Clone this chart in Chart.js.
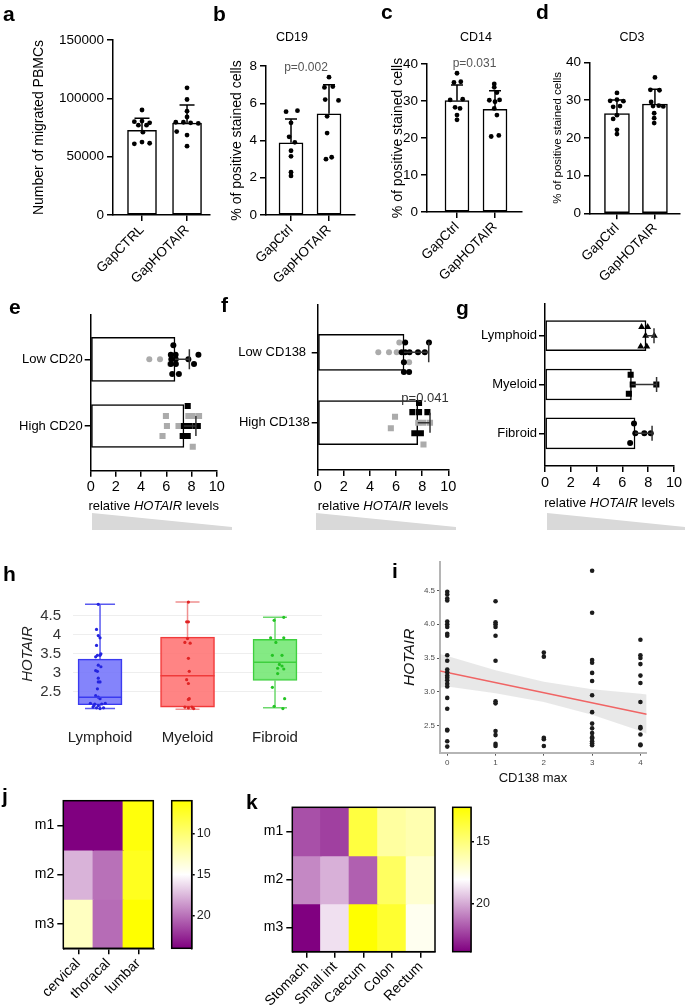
<!DOCTYPE html>
<html>
<head>
<meta charset="utf-8">
<script src="https://cdn.jsdelivr.net/npm/chart.js@4.4.1/dist/chart.umd.min.js"></script>
<style>
  html, body { margin: 0; padding: 0; background: #fff; overflow: hidden; }
  #fig { position: relative; width: 685px; height: 1008px; font-family: "Liberation Sans", Arial, sans-serif; color: #000; }
  #fig canvas { position: absolute; }
  .t { position: absolute; white-space: nowrap; transform: translate(-50%, -50%); line-height: 1; }
  .lab { position: absolute; font-weight: bold; font-size: 21px; line-height: 21px; }
  .wedge { position: absolute; background: #d9d9d9; clip-path: polygon(0 0, 100% 82%, 100% 100%, 0 100%); }
</style>
</head>
<body>
<div id="fig"></div>
<script>
// ---------- data ----------
// a: migrated PBMCs
const aCats = ['GapCTRL', 'GapHOTAIR'];
const aMean = [72500, 78800];
const aSD = [10500, 15500];
const aCtrl = [90000, 80000, 80500, 79000, 77000, 77000, 71000, 61000, 62500, 61500];
const aCtrlJit = [0, -0.17, 0, 0.17, -0.08, 0.1, 0.02, -0.17, 0, 0.17];
const aHot = [109000, 99000, 89000, 84000, 79500, 79500, 79000, 78500, 71500, 68500, 59000];
const aHotJit = [0, 0, 0, 0, -0.25, -0.08, 0.08, 0.25, -0.23, 0, 0];

// b-d: % positive stained cells
const gapCats = ['GapCtrl', 'GapHOTAIR'];
const bMean = [3.88, 5.43];
const bSD = [1.27, 1.57];
const bCtrl = [5.55, 5.6, 4.95, 4.2, 3.9, 3.45, 3.15, 2.3, 2.1];
const bCtrlJit = [-0.13, 0.17, 0, -0.05, 0.1, 0, 0, 0, 0];
const bHot = [7.4, 6.85, 6.9, 6.2, 6.15, 5.3, 4.4, 3.0, 3.1];
const bHotJit = [0, -0.12, 0.1, -0.1, 0.25, -0.05, -0.05, -0.08, 0.07];

const cMean = [30.1, 27.75];
const cSD = [4.2, 5.05];
const cCtrl = [37.5, 35, 35.2, 30.3, 30.5, 28.3, 28, 26.2, 24.9];
const cCtrlJit = [0, -0.08, 0.1, -0.18, 0.15, -0.05, 0.08, 0, 0];
const cHot = [34.6, 33.7, 32.3, 30.2, 29.8, 30.3, 28, 26.2, 20.4, 20.7];
const cHotJit = [-0.02, -0.02, 0.05, -0.15, 0, 0.12, -0.02, 0.05, -0.1, 0.1];

const dMean = [26.4, 28.96];
const dSD = [3.6, 3.9];
const dCtrl = [31.9, 29.8, 30.1, 29.7, 28.2, 28.4, 26, 25, 22.1, 21];
const dCtrlJit = [0, -0.18, 0, 0.17, -0.1, 0.08, 0, -0.1, 0, 0];
const dHot = [36, 32.7, 32.6, 29.5, 28.4, 28.5, 28.3, 26.5, 25.2, 23.9];
const dHotJit = [0, -0.12, 0.12, -0.1, -0.05, 0.1, 0.22, -0.02, -0.02, -0.02];

// e-g: relative HOTAIR levels
const eCats = ['Low CD20', 'High CD20'];
const eMean = [6.69, 7.4];
const eSD = [1.14, 0.95];
const eLowGray = [4.65, 5.5, 6.3];
const eLowGrayJit = [0, 0, 0.07];
const eLowBlack = [6.56, 6.36, 6.74, 8.55, 6.4, 6.75, 7.75, 6.36, 6.76, 8.2, 6.47, 7.0];
const eLowBlackJit = [-0.21, -0.07, -0.07, -0.07, 0, 0, 0, 0.07, 0.07, 0.07, 0.22, 0.22];
const eHighGray = [5.97, 7.75, 8.1, 8.6, 6.05, 6.97, 5.7, 8.1];
const eHighGrayJit = [-0.15, -0.15, -0.15, -0.15, 0, 0, 0.15, 0.31];
const eHighBlack = [7.7, 7.4, 7.8, 8.3, 8.5, 7.3, 7.7];
const eHighBlackJit = [-0.3, 0, 0, 0, 0, 0.15, 0.15];

const fCats = ['Low CD138 ', 'High CD138'];
const fMean = [6.61, 7.66];
const fSD = [1.89, 0.94];
const fLowGray = [6.25, 4.64, 5.46, 6.05, 7.0];
const fLowGrayJit = [-0.14, 0, 0, 0, 0.14];
const fLowBlack = [6.7, 8.52, 6.43, 6.7, 7.03, 7.68, 8.2, 6.6, 6.6, 7.0];
const fLowBlackJit = [-0.14, -0.14, 0, 0, 0, 0, 0, 0.14, 0.28, 0.28];
const fHighGray = [5.92, 7.7, 8.1, 8.6, 5.6, 8.1];
const fHighGrayJit = [-0.085, 0, 0, 0, 0.08, 0.31];
const fHighBlack = [7.76, 7.25, 7.76, 8.4, 7.4, 7.9];
const fHighBlackJit = [-0.28, -0.15, -0.15, -0.15, 0.15, 0.15];

const gCats = ['Lymphoid', 'Myeloid', 'Fibroid'];
const gMean = [7.83, 6.7, 6.98];
const gSD = [0.62, 1.95, 1.32];
const gLym = [7.49, 7.96, 7.8, 8.47, 7.42, 7.89];
const gLymJit = [-0.18, -0.18, 0, 0, 0.22, 0.22];
const gMye = [6.64, 6.8, 8.63, 6.5];
const gMyeJit = [-0.2, 0, 0, 0.19];
const gFib = [6.9, 7.0, 7.7, 8.2, 6.6];
const gFibJit = [-0.2, 0, 0, 0, 0.2];

// h: box plots of HOTAIR
const hCats = ['Lymphoid', 'Myeloid', 'Fibroid'];
const hTicks = [2.5, 3, 3.5, 4, 4.5];
const hMin = [2.06, 2.04, 2.08];
const hQ1 = [2.16, 2.10, 2.80];
const hMed = [2.36, 2.92, 3.28];
const hQ3 = [3.36, 3.94, 3.88];
const hMax = [4.80, 4.86, 4.46];
const hLym = [4.8, 4.14, 3.98, 3.92, 3.72, 3.5, 3.46, 3.46, 3.42, 3.2, 3.16, 3.06, 3.04, 2.86, 2.76, 2.76, 2.58, 2.4, 2.36, 2.32, 2.2, 2.18, 2.14, 2.18, 2.2, 2.1, 2.08, 2.06, 2.08, 2.14];
const hLymJit = [-0.02, -0.04, -0.02, 0, -0.04, 0.01, -0.03, 0, -0.05, -0.02, 0.01, -0.05, -0.03, -0.02, -0.02, 0, -0.03, -0.05, -0.02, 0, -0.11, -0.06, -0.02, 0.02, 0.06, -0.08, -0.04, 0, 0.04, -0.07];
const hMye = [4.86, 4.34, 4.34, 3.9, 3.8, 3.78, 3.38, 3.04, 2.82, 2.72, 2.32, 2.3, 2.1, 2.08, 2.1, 2.06];
const hMyeJit = [0.01, -0.01, 0.01, 0, -0.03, 0.03, 0.01, 0.02, -0.01, 0.01, 0.02, 0.01, -0.03, 0.01, 0.05, 0.07];
const hFib = [4.46, 4.38, 3.92, 3.92, 3.8, 3.46, 3.46, 3.22, 3.18, 3.12, 3.1, 2.98, 2.62, 2.32, 2.12, 2.06];
const hFibJit = [0.1, -0.01, -0.05, 0.1, 0.01, -0.03, 0.08, 0.05, 0.08, 0.03, 0.1, 0.03, -0.03, 0.11, -0.01, 0.09];

// i: HOTAIR vs CD138 max
const iXTicks = [0, 1, 2, 3, 4];
const iYTicks = [2.5, 3, 3.5, 4, 4.5];
const iAt0 = [4.48, 4.44, 4.38, 4.35, 4.04, 4.0, 3.96, 3.86, 3.83, 3.54, 3.46, 3.33, 3.29, 3.24, 3.21, 3.17, 3.12, 3.08, 2.91, 2.75, 2.44, 2.43, 2.27, 2.19];
const iAt1 = [4.34, 4.03, 4.0, 3.96, 3.83, 3.46, 2.86, 2.83, 2.42, 2.36, 2.23, 2.2];
const iAt2 = [3.58, 3.52, 2.32, 2.3, 2.2];
const iAt3 = [4.79, 4.17, 3.47, 3.43, 3.28, 3.16, 2.95, 2.7, 2.53, 2.46, 2.39, 2.33, 2.31, 2.27, 2.24, 2.21];
const iAt4 = [3.77, 3.54, 3.5, 3.41, 3.24, 3.13, 2.85, 2.48, 2.46, 2.37, 2.22, 2.21];
const iFitX = [-0.15, 4.13];
const iFitY = [3.31, 2.67];
const iBandX = [-0.15, 0, 1, 2, 3, 4, 4.13];
const iBandHi = [3.56, 3.53, 3.32, 3.15, 3.04, 2.97, 2.96];
const iBandLo = [3.06, 3.08, 2.98, 2.85, 2.66, 2.42, 2.38];

// j, k: heatmaps
const heatRows = ['m1', 'm2', 'm3'];
const jCols = ['cervical', 'thoracal', 'lumbar'];
const jM1 = [24, 24, 6.4];
const jM2 = [17.7, 20.0, 7.1];
const jM3 = [12.8, 20.2, 6];
const jStops = [6, 15, 24];
const jTicks = [10, 15, 20];
const kCols = ['Stomach', 'Small int', 'Caecum', 'Colon', 'Rectum'];
const kM1 = [22.06, 22.43, 13.67, 15.87, 16.24];
const kM2 = [20.78, 19.86, 21.7, 14.4, 16.97];
const kM3 = [23.9, 18.76, 12.2, 13.3, 17.7];
const kStops = [12.2, 18.05, 23.9];
const kTicks = [15, 20];

// ---------- helpers ----------
const fig = document.getElementById('fig');
Chart.defaults.font.family = '"Liberation Sans", Arial, sans-serif';
Chart.defaults.color = '#000';
Chart.defaults.plugins.legend.display = false;
Chart.defaults.plugins.tooltip.enabled = false;

function mk(box, cfg, plugins) {
  const [l, t, w, h] = box;
  const c = document.createElement('canvas');
  c.width = w; c.height = h;
  Object.assign(c.style, {left: l + 'px', top: t + 'px', width: w + 'px', height: h + 'px'});
  fig.appendChild(c);
  cfg.options = Object.assign({responsive: false, animation: false}, cfg.options);
  cfg.plugins = plugins || [];
  return new Chart(c, cfg);
}
function txt(html, cx, cy, size, css) {
  const d = document.createElement('div');
  d.className = 't';
  d.innerHTML = html;
  Object.assign(d.style, {left: cx + 'px', top: cy + 'px', fontSize: size + 'px'}, css || {});
  fig.appendChild(d);
}
function letter(s, x, y) {
  const d = document.createElement('div');
  d.className = 'lab'; d.textContent = s;
  d.style.left = x + 'px'; d.style.top = y + 'px';
  fig.appendChild(d);
}
function wedge(x, y, w, h) {
  const d = document.createElement('div');
  d.className = 'wedge';
  Object.assign(d.style, {left: x + 'px', top: y + 'px', width: w + 'px', height: h + 'px'});
  fig.appendChild(d);
}

const cmapRGB = [[255, 255, 0], [255, 255, 255], [128, 0, 128]];
function cmap(v, stops) {
  const k = v <= stops[1] ? 0 : 1;
  const t = Math.max(0, Math.min(1, (v - stops[k]) / (stops[k + 1] - stops[k])));
  const a = cmapRGB[k], b = cmapRGB[k + 1];
  return 'rgb(' + a.map((c, i) => Math.round(c + (b[i] - c) * t)).join(',') + ')';
}

const axisGrid = {drawOnChartArea: false, offset: false, color: '#000', lineWidth: 1.5, tickColor: '#000', tickWidth: 1.5, tickLength: 6};
const axisBorder = {display: true, color: '#000', width: 1.5};

// error bars (one-sided, GraphPad style)
const errBars = {
  id: 'errBars',
  afterDatasetsDraw(chart, args, o) {
    const {ctx} = chart, x = chart.scales.x, y = chart.scales.y;
    ctx.save();
    ctx.strokeStyle = o.color || '#000';
    ctx.lineWidth = 1.5;
    o.mean.forEach((m, i) => {
      const e = m + o.sd[i], c = o.cap / 2;
      ctx.beginPath();
      if (o.horiz) {
        const py = y.getPixelForValue(i), x0 = x.getPixelForValue(m), x1 = x.getPixelForValue(e);
        ctx.moveTo(x0, py); ctx.lineTo(x1, py);
        ctx.moveTo(x1, py - c); ctx.lineTo(x1, py + c);
      } else {
        const px = x.getPixelForValue(i), y0 = y.getPixelForValue(m), y1 = y.getPixelForValue(e);
        ctx.moveTo(px, y0); ctx.lineTo(px, y1);
        ctx.moveTo(px - c, y1); ctx.lineTo(px + c, y1);
      }
      ctx.stroke();
    });
    ctx.restore();
  }
};

const frame = {
  id: 'frame',
  afterDraw(chart) {
    const {ctx, chartArea: a} = chart;
    ctx.save();
    ctx.strokeStyle = '#000'; ctx.lineWidth = 1.5;
    ctx.strokeRect(a.left, a.top, a.right - a.left, a.bottom - a.top);
    ctx.restore();
  }
};

// whiskers + median for box plot
const boxDeco = {
  id: 'boxDeco',
  beforeDatasetsDraw(chart, args, o) {
    const {ctx} = chart, x = chart.scales.x, y = chart.scales.y;
    ctx.save(); ctx.lineWidth = 1.5;
    o.med.forEach((m, i) => {
      const px = x.getPixelForValue(i), c = o.cap[i] / 2;
      const yMax = y.getPixelForValue(o.max[i]), yMin = y.getPixelForValue(o.min[i]);
      ctx.strokeStyle = o.whisk[i];
      ctx.beginPath();
      ctx.moveTo(px, y.getPixelForValue(o.q3[i])); ctx.lineTo(px, yMax);
      ctx.moveTo(px, y.getPixelForValue(o.q1[i])); ctx.lineTo(px, yMin);
      ctx.moveTo(px - c, yMax); ctx.lineTo(px + c, yMax);
      ctx.moveTo(px - c, yMin); ctx.lineTo(px + c, yMin);
      ctx.stroke();
    });
    ctx.restore();
  },
  afterDatasetsDraw(chart, args, o) {
    const {ctx} = chart, x = chart.scales.x, y = chart.scales.y;
    ctx.save(); ctx.lineWidth = 1.5;
    o.med.forEach((m, i) => {
      const px = x.getPixelForValue(i), hw = o.w[i] / 2, py = y.getPixelForValue(m);
      ctx.strokeStyle = o.edge[i];
      ctx.beginPath(); ctx.moveTo(px - hw, py); ctx.lineTo(px + hw, py); ctx.stroke();
    });
    ctx.restore();
  }
};

// ---------- vertical bar panels (a-d) ----------
function vbar(p) {
  const [l, t, w, h] = p.box, A = p.area;
  const ds = [{type: 'bar', data: p.mean.map((m, i) => ({x: i, y: m})), backgroundColor: '#fff',
    borderColor: '#000', borderWidth: 1.5, borderSkipped: false, barThickness: p.barW, order: 2}];
  p.dots.forEach((g, i) => ds.push({type: 'scatter', data: g[0].map((v, k) => ({x: i + g[1][k], y: v})),
    pointRadius: 2.4, pointBackgroundColor: '#000', pointBorderWidth: 0, order: 1}));
  mk(p.box, {type: 'bar', data: {datasets: ds}, options: {
    layout: {padding: {left: 0, top: A.t - t, right: l + w - A.r, bottom: 0}},
    scales: {
      x: {type: 'linear', min: p.xr[0], max: p.xr[1], offset: false, grid: axisGrid, border: axisBorder,
        afterBuildTicks: s => { s.ticks = p.cats.map((c, i) => ({value: i})); },
        afterFit: s => { s.height = t + h - A.b; },
        ticks: {autoSkip: false, minRotation: 45, maxRotation: 45, padding: 1, font: {size: 13.5}, callback: v => p.cats[v]}},
      y: {type: 'linear', min: 0, max: p.ymax, offset: false, grid: axisGrid, border: axisBorder,
        afterFit: s => { s.width = A.l - l; },
        ticks: {stepSize: p.step, padding: 3, font: {size: 13.5}, callback: v => String(v)},
        title: {display: true, text: p.title, font: {size: p.tsize}, padding: {top: p.tpad, bottom: 0}}}
    },
    plugins: {errBars: {mean: p.mean, sd: p.sd, cap: p.cap}}
  }}, [errBars]);
}

vbar({box: [0, 0, 222, 290], area: {l: 113, t: 40, r: 210, b: 215}, xr: [-0.644, 1.51], cats: aCats,
  mean: aMean, sd: aSD, dots: [[aCtrl, aCtrlJit], [aHot, aHotJit]], barW: 29, cap: 15,
  ymax: 150000, step: 50000, title: 'Number of migrated PBMCs', tsize: 14, tpad: 30.6});
vbar({box: [222, 0, 140, 290], area: {l: 266, t: 66, r: 355, b: 215}, xr: [-0.658, 1.684], cats: gapCats,
  mean: bMean, sd: bSD, dots: [[bCtrl, bCtrlJit], [bHot, bHotJit]], barW: 24, cap: 12,
  ymax: 8, step: 2, title: '% of positive stained cells', tsize: 14, tpad: 6.6});
vbar({box: [362, 0, 165, 290], area: {l: 427, t: 64, r: 522, b: 212}, xr: [-0.789, 1.71], cats: gapCats,
  mean: cMean, sd: cSD, dots: [[cCtrl, cCtrlJit], [cHot, cHotJit]], barW: 24, cap: 12,
  ymax: 40, step: 10, title: '% of positive stained cells', tsize: 14, tpad: 27.6});
vbar({box: [527, 0, 158, 290], area: {l: 590, t: 62.3, r: 680, b: 213.3}, xr: [-0.71, 1.66], cats: gapCats,
  mean: dMean, sd: dSD, dots: [[dCtrl, dCtrlJit], [dHot, dHotJit]], barW: 25, cap: 12,
  ymax: 40, step: 10, title: '% of positive stained cells', tsize: 11.5, tpad: 24.1});

// ---------- horizontal bar panels (e-g) ----------
function hbar(p) {
  const [l, t, w, h] = p.box, A = p.area;
  const ds = p.mean.map((m, i) => ({type: 'bar', indexAxis: 'y', grouped: false, data: [{x: m, y: i}],
    barThickness: p.thick[i], backgroundColor: '#fff', borderColor: '#000', borderWidth: 1.5, borderSkipped: false, order: 3}));
  p.dots.forEach(d => ds.push({type: 'scatter', data: d.v.map((v, k) => ({x: v, y: d.cat + d.j[k]})),
    pointStyle: d.style, pointRadius: d.r, pointBackgroundColor: d.color, pointBorderWidth: 0, order: d.top ? 1 : 2}));
  mk(p.box, {type: 'bar', data: {datasets: ds}, options: {
    layout: {padding: {left: 0, top: A.t - t, right: l + w - A.r, bottom: 0}},
    scales: {
      x: {type: 'linear', min: 0, max: 10, offset: false, grid: axisGrid, border: axisBorder,
        afterFit: s => { s.height = t + h - A.b; },
        ticks: {stepSize: 2, padding: 2, font: {size: 14.5}}},
      y: {type: 'linear', reverse: true, min: p.yr[0], max: p.yr[1], offset: false, grid: axisGrid, border: axisBorder,
        afterFit: s => { s.width = A.l - l; },
        afterBuildTicks: s => { s.ticks = p.cats.map((c, i) => ({value: i})); },
        ticks: {autoSkip: false, padding: 2, font: {size: 13}, callback: v => p.cats[v]}}
    },
    plugins: {errBars: {mean: p.mean, sd: p.sd, cap: p.cap, horiz: true, color: '#333'}}
  }}, [errBars]);
}

const GRAY = '#ababab';
hbar({box: [0, 290, 230, 230], area: {l: 90.7, t: 315, r: 216.7, b: 470.7}, yr: [-0.664, 1.67],
  cats: eCats, mean: eMean, sd: eSD, thick: [44, 43], cap: 20, dots: [
    {v: eLowGray, j: eLowGrayJit, cat: 0, style: 'circle', r: 3, color: GRAY},
    {v: eLowBlack, j: eLowBlackJit, cat: 0, style: 'circle', r: 3, color: '#000', top: true},
    {v: eHighGray, j: eHighGrayJit, cat: 1, style: 'rect', r: 4.3, color: GRAY},
    {v: eHighBlack, j: eHighBlackJit, cat: 1, style: 'rect', r: 4.3, color: '#000', top: true}]});
hbar({box: [230, 290, 232, 230], area: {l: 317.7, t: 305, r: 448.3, b: 470}, yr: [-0.672, 1.672],
  cats: fCats, mean: fMean, sd: fSD, thick: [36, 44], cap: 20, dots: [
    {v: fLowGray, j: fLowGrayJit, cat: 0, style: 'circle', r: 3, color: GRAY},
    {v: fLowBlack, j: fLowBlackJit, cat: 0, style: 'circle', r: 3, color: '#000', top: true},
    {v: fHighGray, j: fHighGrayJit, cat: 1, style: 'rect', r: 4.3, color: GRAY},
    {v: fHighBlack, j: fHighBlackJit, cat: 1, style: 'rect', r: 4.3, color: '#000', top: true}]});
hbar({box: [455, 290, 230, 230], area: {l: 545, t: 303.3, r: 674, b: 466}, yr: [-0.664, 2.67],
  cats: gCats, mean: gMean, sd: gSD, thick: [30, 31, 31], cap: 15, dots: [
    {v: gLym, j: gLymJit, cat: 0, style: 'triangle', r: 4, color: '#000', top: true},
    {v: gMye, j: gMyeJit, cat: 1, style: 'rect', r: 4.3, color: '#000', top: true},
    {v: gFib, j: gFibJit, cat: 2, style: 'circle', r: 3, color: '#000', top: true}]});

// ---------- h: box plot ----------
const hFill = ['rgba(110,110,250,0.85)', 'rgba(255,110,110,0.85)', 'rgba(110,230,110,0.85)'];
const hEdge = ['#3a3af0', '#f03a3a', '#3fcf3f'];
const hWhisk = ['#5a5af0', '#f09090', '#6cd86c'];
const hDot = ['#2424e0', '#e02424', '#24c424'];
const hBoxW = [44, 54, 44];
const hDs = hCats.map((c, i) => ({type: 'bar', grouped: false, data: [{x: i, y: [hQ1[i], hQ3[i]]}],
  barThickness: hBoxW[i], backgroundColor: hFill[i], borderColor: hEdge[i], borderWidth: 1.3, borderSkipped: false, order: 2}));
[[hLym, hLymJit], [hMye, hMyeJit], [hFib, hFibJit]].forEach((g, i) => hDs.push({type: 'scatter',
  data: g[0].map((v, k) => ({x: i + g[1][k], y: v})), pointRadius: 1.6, pointBackgroundColor: hDot[i], pointBorderWidth: 0, order: 1}));
mk([0, 575, 335, 175], {type: 'bar', data: {datasets: hDs}, options: {
  layout: {padding: {left: 0, top: 10, right: 13, bottom: 0}},
  scales: {
    x: {type: 'linear', min: -0.309, max: 2.537, offset: false, grid: {display: false, offset: false}, border: {display: false},
      afterBuildTicks: s => { s.ticks = hCats.map((c, i) => ({value: i})); },
      afterFit: s => { s.height = 38; },
      ticks: {autoSkip: false, maxRotation: 0, padding: 9, color: '#222', font: {size: 15}, callback: v => hCats[v]}},
    y: {type: 'linear', min: 1.97, max: 5.02, offset: false, grid: {color: '#eeeeee', lineWidth: 1, drawTicks: false}, border: {display: false},
      afterBuildTicks: s => { s.ticks = hTicks.map(v => ({value: v})); },
      afterFit: s => { s.width = 73; },
      ticks: {padding: 12, color: '#333', font: {size: 15}, callback: v => String(v)},
      title: {display: true, text: 'HOTAIR', font: {size: 15, style: 'italic'}, color: '#222', padding: {top: 19.3, bottom: 0}}}
  },
  plugins: {boxDeco: {min: hMin, q1: hQ1, med: hMed, q3: hQ3, max: hMax, cap: [30, 24, 24], w: hBoxW, edge: hEdge, whisk: hWhisk}}
}}, [boxDeco]);

// ---------- i: scatter with linear fit ----------
const iPoints = [iAt0, iAt1, iAt2, iAt3, iAt4].flatMap((col, c) => col.map(v => ({x: c, y: v})));
const iGrid = {drawOnChartArea: false, offset: false, color: '#555', lineWidth: 1, tickColor: '#555', tickLength: 3};
const iBorder = {display: true, color: '#b5b5b5', width: 2};
mk([340, 554, 345, 236], {type: 'scatter', data: {datasets: [
  {type: 'line', data: iBandX.map((x, k) => ({x, y: iBandHi[k]})), borderColor: 'rgba(0,0,0,0)', pointRadius: 0, fill: false, order: 4},
  {type: 'line', data: iBandX.map((x, k) => ({x, y: iBandLo[k]})), borderColor: 'rgba(0,0,0,0)', pointRadius: 0, fill: '-1', backgroundColor: 'rgba(150,150,150,0.22)', order: 3},
  {type: 'line', data: iFitX.map((x, k) => ({x, y: iFitY[k]})), borderColor: '#f06464', borderWidth: 1.5, pointRadius: 0, fill: false, order: 2},
  {type: 'scatter', data: iPoints, pointRadius: 2.3, pointBackgroundColor: '#1c1c1c', pointBorderWidth: 0, order: 1}
]}, options: {
  layout: {padding: {left: 0, top: 8, right: 38.3, bottom: 0}},
  scales: {
    x: {type: 'linear', min: -0.15, max: 4.13, grid: iGrid, border: iBorder,
      afterBuildTicks: s => { s.ticks = iXTicks.map(v => ({value: v})); },
      afterFit: s => { s.height = 37.3; },
      ticks: {padding: 2, color: '#4d4d4d', font: {size: 8}, callback: v => String(v)}},
    y: {type: 'linear', min: 2.1, max: 4.92, grid: iGrid, border: iBorder,
      afterBuildTicks: s => { s.ticks = iYTicks.map(v => ({value: v})); },
      afterFit: s => { s.width = 100; },
      ticks: {padding: 2, color: '#4d4d4d', font: {size: 8}, callback: v => v.toFixed(1)},
      title: {display: true, text: 'HOTAIR', font: {size: 15.5, style: 'italic'}, color: '#111', padding: {top: 60.7, bottom: 0}}}
  }
}});

// ---------- j, k: heatmaps with colour bars ----------
function heat(p) {
  const [l, t, w, h] = p.box, A = p.area;
  const ds = p.vals.map((row, r) => ({type: 'bar', grouped: false, barPercentage: 1, categoryPercentage: 1,
    borderWidth: 0, inflateAmount: 0.7, data: row.map((v, c) => ({x: p.cols[c], y: [r, r + 1]})),
    backgroundColor: row.map(v => cmap(v, p.stops))}));
  mk(p.box, {type: 'bar', data: {labels: p.cols, datasets: ds}, options: {
    layout: {padding: {left: 0, top: A.t - t, right: l + w - A.r, bottom: 0}},
    scales: {
      x: {type: 'category', offset: true, grid: axisGrid, border: axisBorder,
        afterFit: s => { s.height = t + h - A.b; },
        ticks: {autoSkip: false, minRotation: 45, maxRotation: 45, padding: 1, font: {size: 14}}},
      y: {type: 'linear', min: 0, max: p.rows.length, reverse: true, offset: false, grid: axisGrid, border: axisBorder,
        afterFit: s => { s.width = A.l - l; },
        afterBuildTicks: s => { s.ticks = p.rows.map((r, i) => ({value: i + 0.5})); },
        ticks: {autoSkip: false, padding: 3, font: {size: 14}, callback: v => p.rows[Math.floor(v)]}}
    }
  }}, [frame]);
}
function cbar(p) {
  const [l, t, w, h] = p.box, A = p.area;
  const grad = ctx => {
    const ch = ctx.chart, y = ch.scales.y;
    if (!ch.chartArea || !y) return '#fff';
    const y0 = y.getPixelForValue(p.stops[0]), y1 = y.getPixelForValue(p.stops[1]), y2 = y.getPixelForValue(p.stops[2]);
    const g = ch.ctx.createLinearGradient(0, y0, 0, y2);
    g.addColorStop(0, cmap(p.stops[0], p.stops));
    g.addColorStop((y1 - y0) / (y2 - y0), cmap(p.stops[1], p.stops));
    g.addColorStop(1, cmap(p.stops[2], p.stops));
    return g;
  };
  mk(p.box, {type: 'bar', data: {labels: ['scale'], datasets: [{data: [[p.stops[0], p.stops[2]]],
    barPercentage: 1, categoryPercentage: 1, borderWidth: 0, backgroundColor: grad}]}, options: {
    layout: {padding: {left: A.l - l, top: A.t - t, right: 0, bottom: t + h - A.b}},
    scales: {
      x: {display: false},
      y: {position: 'right', min: p.stops[0], max: p.stops[2], reverse: true, grid: {...axisGrid, tickLength: 3}, border: axisBorder,
        afterFit: s => { s.width = l + w - A.r; },
        afterBuildTicks: s => { s.ticks = p.ticks.map(v => ({value: v})); },
        ticks: {padding: 2, font: {size: 12.5}, color: '#222'}}
    }
  }}, [frame]);
}

heat({box: [0, 785, 165, 223], area: {l: 63.3, t: 800.7, r: 153.3, b: 948.3}, rows: heatRows, cols: jCols,
  vals: [jM1, jM2, jM3], stops: jStops});
cbar({box: [160, 785, 80, 223], area: {l: 171.7, t: 800.7, r: 191.7, b: 948.3}, stops: jStops, ticks: jTicks});
heat({box: [240, 785, 205, 223], area: {l: 292.3, t: 807.3, r: 435, b: 951.7}, rows: heatRows, cols: kCols,
  vals: [kM1, kM2, kM3], stops: kStops});
cbar({box: [440, 785, 90, 223], area: {l: 452.7, t: 807.3, r: 471, b: 951.7}, stops: kStops, ticks: kTicks});

// ---------- texts ----------
letter('a', 3, 3); letter('b', 213, 3); letter('c', 381, 1); letter('d', 536, 1);
letter('e', 9, 296); letter('f', 221, 294); letter('g', 456, 297);
letter('h', 3, 563); letter('i', 392, 560); letter('j', 2, 785); letter('k', 246, 791);

txt('CD19', 292, 37, 12.5);
txt('CD14', 476, 37, 12.5);
txt('CD3', 632, 37, 12.5);
txt('p=0.002', 306, 67, 12, {color: '#555'});
txt('p=0.031', 474.5, 63, 12, {color: '#555'});
txt('p=0.041', 425, 397, 13, {color: '#333'});
txt('relative <i>HOTAIR</i> levels', 153.7, 505, 13);
txt('relative <i>HOTAIR</i> levels', 383, 505, 13);
txt('relative <i>HOTAIR</i> levels', 609.5, 502, 13);
txt('CD138 max', 533, 777, 13, {color: '#111'});

wedge(92, 513, 140, 17);
wedge(316, 513, 140, 17);
wedge(547, 513, 138, 17);
</script>
</body>
</html>
